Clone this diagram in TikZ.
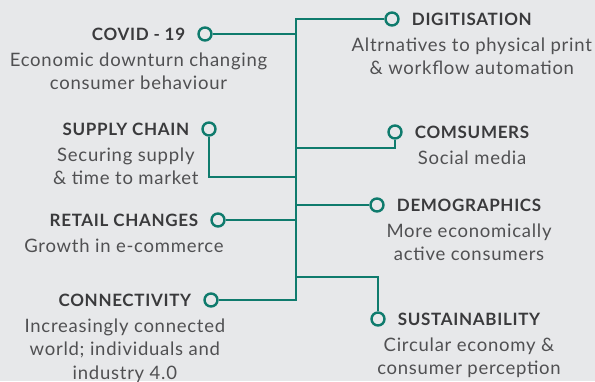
\documentclass[tikz,border=0pt]{standalone}
\usepackage{fontspec}
\setmainfont{Lato}[LetterSpace=4]
\usetikzlibrary{positioning}
\definecolor{trendgreen}{HTML}{0F7B6D}
\definecolor{bgpanel}{HTML}{E7E8EA}
\definecolor{headgrey}{HTML}{3A3A3C}
\definecolor{bodygrey}{HTML}{505052}

\begin{document}
\begin{tikzpicture}[x=1pt,y=-1pt,node distance=12pt,
  dot/.style={circle,draw=trendgreen,line width=2.4pt,minimum size=13pt,inner sep=0pt},
  link/.style={draw=trendgreen,line width=2.2pt},
  title/.style={font=\bfseries\fontsize{17}{19}\selectfont,text=headgrey,inner sep=0pt},
  desc/.style={font=\fontsize{18.5}{23.5}\selectfont,text=bodygrey,align=center,inner sep=0pt}]
\fill[bgpanel] (0,0) rectangle (595,381);
\useasboundingbox (0,0) rectangle (595,381);

% circles on the ends of the branches
\node[dot] (cov) at (205,34) {};
\node[dot] (sup) at (209,129) {};
\node[dot] (ret) at (218,220) {};
\node[dot] (con) at (211,300) {};
\node[dot] (dig) at (392,19) {};
\node[dot] (cms) at (395,132) {};
\node[dot] (dem) at (377,205) {};
\node[dot] (sus) at (378,319) {};

% trunk and branches
\coordinate (tr) at (296,0);
\coordinate (supj) at (296,177);
\coordinate (cmsj) at (296,148);
\coordinate (susj) at (296,277);
\draw[link] (dig.west) -- (dig.west -| tr) -- (con.east -| tr) -- (con.east);
\draw[link] (cov.east) -- (cov.east -| tr);
\draw[link] (ret.east) -- (ret.east -| tr);
\draw[link] (dem.west) -- (dem.west -| tr);
\draw[link] (sup.south) |- (supj);
\draw[link] (cms.south) |- (cmsj);
\draw[link] (sus.north) |- (susj);

% left labels
\node[title,left=of cov] (covt) {COVID - 19};
\node[desc,below=12pt of covt] (covd) {Economic downturn changing\\consumer behaviour};
\node[title,left=of sup] (supt) {SUPPLY CHAIN};
\node[desc,below=12pt of supt] (supd) {Securing supply\\\& time to market};
\node[title,left=of ret] (rett) {RETAIL CHANGES};
\node[desc,below=12pt of rett] (retd) {Growth in e-commerce};
\node[title,left=of con] (cont) {CONNECTIVITY};
\node[desc,below=12pt of cont] (cond) {Increasingly connected\\world; individuals and\\industry 4.0};

% right labels
\node[title,right=of dig] (digt) {DIGITISATION};
\node[desc,below=12pt of digt] (digd) {Altrnatives to physical print\\\& workflow automation};
\node[title,right=of cms] (cmst) {COMSUMERS};
\node[desc,below=12pt of cmst] (cmsd) {Social media};
\node[title,right=of dem] (demt) {DEMOGRAPHICS};
\node[desc,below=12pt of demt] (demd) {More economically\\active consumers};
\node[title,right=of sus] (sust) {SUSTAINABILITY};
\node[desc,below=12pt of sust] (susd) {Circular economy \&\\consumer perception};
\end{tikzpicture}
\end{document}
